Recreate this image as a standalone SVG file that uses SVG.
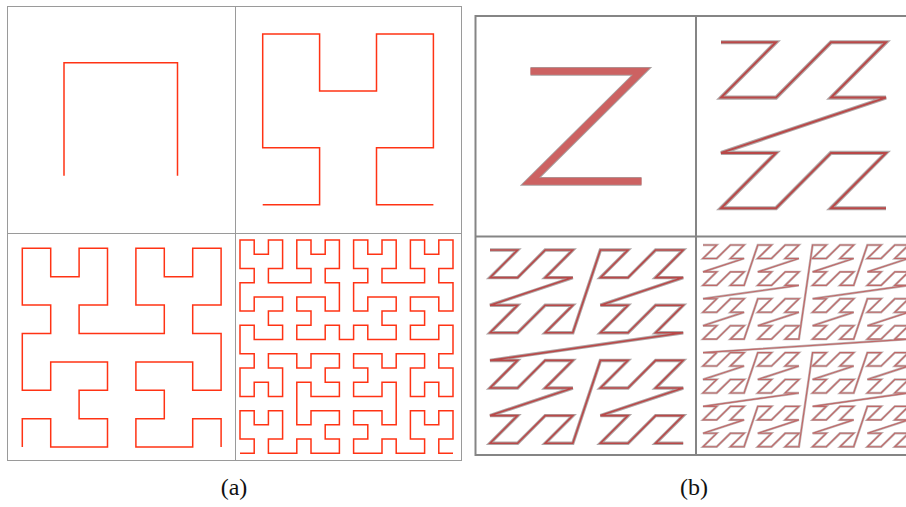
<svg xmlns="http://www.w3.org/2000/svg" width="906" height="507" viewBox="0 0 906 507">
<style>
.hil{fill:none;stroke:#ff3314;stroke-width:1.5;stroke-linejoin:miter}
.fa{fill:none;stroke:#9a9a9a;stroke-width:1}
.fb{fill:none;stroke:#858585;stroke-width:2}
.zh{fill:none;stroke:#b0a6a6}
.zc{fill:none;stroke:#b94848}
.lbl{font-family:"Liberation Serif","Times New Roman",serif;font-size:24px;fill:#111;text-anchor:middle}
</style>
<defs>
<path id="z1" d="M0 0h1l-1 1h1"/>
<path id="z2" d="M0 0h1l-1 1h1l1 -1h1l-1 1h1l-3 1h1l-1 1h1l1 -1h1l-1 1h1"/>
<path id="z3" d="M0 0h1l-1 1h1l1 -1h1l-1 1h1l-3 1h1l-1 1h1l1 -1h1l-1 1h1 L4 0h1l-1 1h1l1 -1h1l-1 1h1l-3 1h1l-1 1h1l1 -1h1l-1 1h1 L0 4h1l-1 1h1l1 -1h1l-1 1h1l-3 1h1l-1 1h1l1 -1h1l-1 1h1 L4 4h1l-1 1h1l1 -1h1l-1 1h1l-3 1h1l-1 1h1l1 -1h1l-1 1h1"/>
<path id="z4" d="M0 0h1l-1 1h1l1 -1h1l-1 1h1l-3 1h1l-1 1h1l1 -1h1l-1 1h1 L4 0h1l-1 1h1l1 -1h1l-1 1h1l-3 1h1l-1 1h1l1 -1h1l-1 1h1 L0 4h1l-1 1h1l1 -1h1l-1 1h1l-3 1h1l-1 1h1l1 -1h1l-1 1h1 L4 4h1l-1 1h1l1 -1h1l-1 1h1l-3 1h1l-1 1h1l1 -1h1l-1 1h1 L8 0h1l-1 1h1l1 -1h1l-1 1h1l-3 1h1l-1 1h1l1 -1h1l-1 1h1 L12 0h1l-1 1h1l1 -1h1l-1 1h1l-3 1h1l-1 1h1l1 -1h1l-1 1h1 L8 4h1l-1 1h1l1 -1h1l-1 1h1l-3 1h1l-1 1h1l1 -1h1l-1 1h1 L12 4h1l-1 1h1l1 -1h1l-1 1h1l-3 1h1l-1 1h1l1 -1h1l-1 1h1 L0 8h1l-1 1h1l1 -1h1l-1 1h1l-3 1h1l-1 1h1l1 -1h1l-1 1h1 L4 8h1l-1 1h1l1 -1h1l-1 1h1l-3 1h1l-1 1h1l1 -1h1l-1 1h1 L0 12h1l-1 1h1l1 -1h1l-1 1h1l-3 1h1l-1 1h1l1 -1h1l-1 1h1 L4 12h1l-1 1h1l1 -1h1l-1 1h1l-3 1h1l-1 1h1l1 -1h1l-1 1h1 L8 8h1l-1 1h1l1 -1h1l-1 1h1l-3 1h1l-1 1h1l1 -1h1l-1 1h1 L12 8h1l-1 1h1l1 -1h1l-1 1h1l-3 1h1l-1 1h1l1 -1h1l-1 1h1 L8 12h1l-1 1h1l1 -1h1l-1 1h1l-3 1h1l-1 1h1l1 -1h1l-1 1h1 L12 12h1l-1 1h1l1 -1h1l-1 1h1l-3 1h1l-1 1h1l1 -1h1l-1 1h1"/>
</defs>

<g id="panel-a">
<rect class="fa" x="7.5" y="6.5" width="454" height="454"/>
<line class="fa" x1="235.5" y1="6.5" x2="235.5" y2="460.5"/>
<line class="fa" x1="7.5" y1="233.5" x2="461.5" y2="233.5"/>
<g id="hilbert-1" transform="translate(64 62.7) scale(113.5 113)">
<path class="hil" vector-effect="non-scaling-stroke" d="M0 1v-1h1v1"/>
</g>
<g id="hilbert-2" transform="translate(262.7 34) scale(56.9 56.9)">
<path class="hil" vector-effect="non-scaling-stroke" d="M0 3h1v-1h-1v-2h1v1h1v-1h1v2h-1v1h1"/>
</g>
<g id="hilbert-3" transform="translate(22.3 248.3) scale(28.4 28.4)">
<path class="hil" vector-effect="non-scaling-stroke" d="M0 7v-1h1v1h2v-1h-1v-1h1v-1h-2v1h-1v-2h1v-1h-1v-2h1v1h1v-1h1v2h-1v1h3v-1h-1v-2h1v1h1v-1h1v2h-1v1h1v2h-1v-1h-2v1h1v1h-1v1h2v-1h1v1"/>
</g>
<g id="hilbert-4" transform="translate(240 240) scale(14.2 14.22)">
<path class="hil" vector-effect="non-scaling-stroke" d="M0 15
h1 v-1 h-1 v-2 h1 v1 h1 v-1 h1 v2 h-1 v1 h2 v-1 h1 v1 h2 v-1 h-1 v-1 h1 v-1 h-2 v1 h-1 v-3 h1 v1 h2 v-1 h-1 v-1 h1 v-1 h-2 v1 h-1 v-1 h-2 v1 h1 v2 h-1 v-1 h-1 v1 h-1 v-2 h1 v-1 h-1
v-1
v-1 h1 v1 h2 v-1 h-1 v-1 h1 v-1 h-2 v1 h-1 v-2 h1 v-1 h-1 v-2 h1 v1 h1 v-1 h1 v2 h-1 v1 h3 v-1 h-1 v-2 h1 v1 h1 v-1 h1 v2 h-1 v1 h1 v2 h-1 v-1 h-2 v1 h1 v1 h-1 v1 h2 v-1 h1 v1
h1
v-1 h1 v1 h2 v-1 h-1 v-1 h1 v-1 h-2 v1 h-1 v-2 h1 v-1 h-1 v-2 h1 v1 h1 v-1 h1 v2 h-1 v1 h3 v-1 h-1 v-2 h1 v1 h1 v-1 h1 v2 h-1 v1 h1 v2 h-1 v-1 h-2 v1 h1 v1 h-1 v1 h2 v-1 h1 v1
v1
h-1 v1 h1 v2 h-1 v-1 h-1 v1 h-1 v-2 h1 v-1 h-2 v1 h-1 v-1 h-2 v1 h1 v1 h-1 v1 h2 v-1 h1 v3 h-1 v-1 h-2 v1 h1 v1 h-1 v1 h2 v-1 h1 v1 h2 v-1 h-1 v-2 h1 v1 h1 v-1 h1 v2 h-1 v1 h1"/>
</g>
</g>

<g id="panel-b">
<rect class="fb" x="475.5" y="16" width="442" height="439"/>
<line class="fb" x1="696" y1="16" x2="696" y2="455"/>
<line class="fb" x1="475.5" y1="236.5" x2="917.5" y2="236.5"/>
<g id="zorder-1">
<use href="#z1" fill="none" stroke="#a8a0a0" stroke-width="0.08" transform="translate(530.5 71.3) scale(111 110)"/>
<use href="#z1" fill="none" stroke="#cc6262" stroke-width="0.064" transform="translate(530.5 71.3) scale(111 110)"/>
</g>
<g id="zorder-2">
<use href="#z2" class="zh" stroke-width="0.075" transform="translate(721 42.3) scale(55 55.3)"/>
<use href="#z2" class="zc" stroke-width="0.036" transform="translate(721 42.3) scale(55 55.3)"/>
</g>
<g id="zorder-3">
<use href="#z3" class="zh" stroke-width="0.125" transform="translate(490 250) scale(27.6 27.6)"/>
<use href="#z3" class="zc" stroke-width="0.058" transform="translate(490 250) scale(27.6 27.6)"/>
</g>
<g id="zorder-4">
<use href="#z4" fill="none" stroke="#c2b8b8" stroke-width="0.18" transform="translate(703 245) scale(13.7 13.45)"/>
<use href="#z4" fill="none" stroke="#c06868" stroke-width="0.085" transform="translate(703 245) scale(13.7 13.45)"/>
</g>
</g>

<text class="lbl" x="234" y="495">(a)</text>
<text class="lbl" x="694" y="495">(b)</text>
</svg>
